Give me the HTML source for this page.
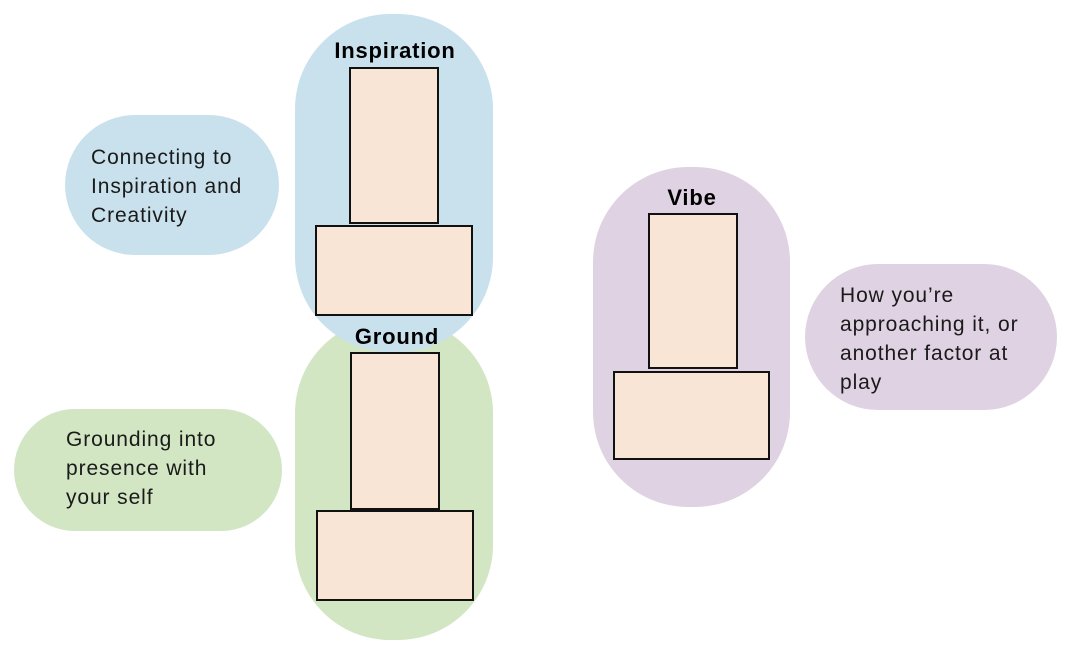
<!DOCTYPE html>
<html><head><meta charset="utf-8"><style>
body{margin:0;width:1077px;height:646px;background:#fff;position:relative;overflow:hidden;font-family:"Liberation Sans","DejaVu Sans",sans-serif;}
.p{position:absolute;}
.r{position:absolute;background:#f8e5d5;border:2.5px solid #111;box-sizing:border-box;}
.t{position:absolute;font-size:21px;letter-spacing:0.9px;line-height:29px;color:#1a1a1a;}
.h{position:absolute;font-weight:bold;font-size:22px;letter-spacing:0.8px;color:#000;text-align:center;width:200px;}
.d{position:absolute;width:3px;height:3px;border:1px solid #a99;border-radius:50%;}
</style></head><body>
<div class="p" style="left:295px;top:318px;width:198px;height:322px;background:#d3e6c4;border-radius:95px;"></div>
<div class="p" style="left:295px;top:14px;width:198px;height:338px;background:#c9e1ec;border-radius:95px;"></div>
<div class="p" style="left:593px;top:167px;width:197px;height:340px;background:#dfd2e2;border-radius:95px;"></div>
<div class="p" style="left:65px;top:115px;width:214px;height:140px;background:#c9e1ec;border-radius:70px;"></div>
<div class="p" style="left:14px;top:409px;width:268px;height:122px;background:#d3e6c4;border-radius:61px;"></div>
<div class="p" style="left:805px;top:264px;width:252px;height:146px;background:#dfd2e2;border-radius:73px;"></div>

<div class="h" style="left:295px;top:38px;">Inspiration</div>
<div class="h" style="left:297px;top:324px;">Ground</div>
<div class="h" style="left:592px;top:185px;">Vibe</div>

<div class="r" style="left:349px;top:67px;width:90px;height:157px;"></div>
<div class="r" style="left:315px;top:225px;width:158px;height:91px;"></div>
<div class="r" style="left:350px;top:352px;width:90px;height:158px;"></div>
<div class="r" style="left:316px;top:510px;width:158px;height:91px;"></div>
<div class="r" style="left:648px;top:213px;width:90px;height:156px;"></div>
<div class="r" style="left:613px;top:371px;width:157px;height:89px;"></div>

<div class="t" style="left:91px;top:143px;">Connecting to<br>Inspiration and<br>Creativity</div>
<div class="t" style="left:66px;top:425px;">Grounding into<br>presence with<br>your self</div>
<div class="t" style="left:840px;top:281px;">How you’re<br>approaching it, or<br>another factor at<br>play</div>
</body></html>
